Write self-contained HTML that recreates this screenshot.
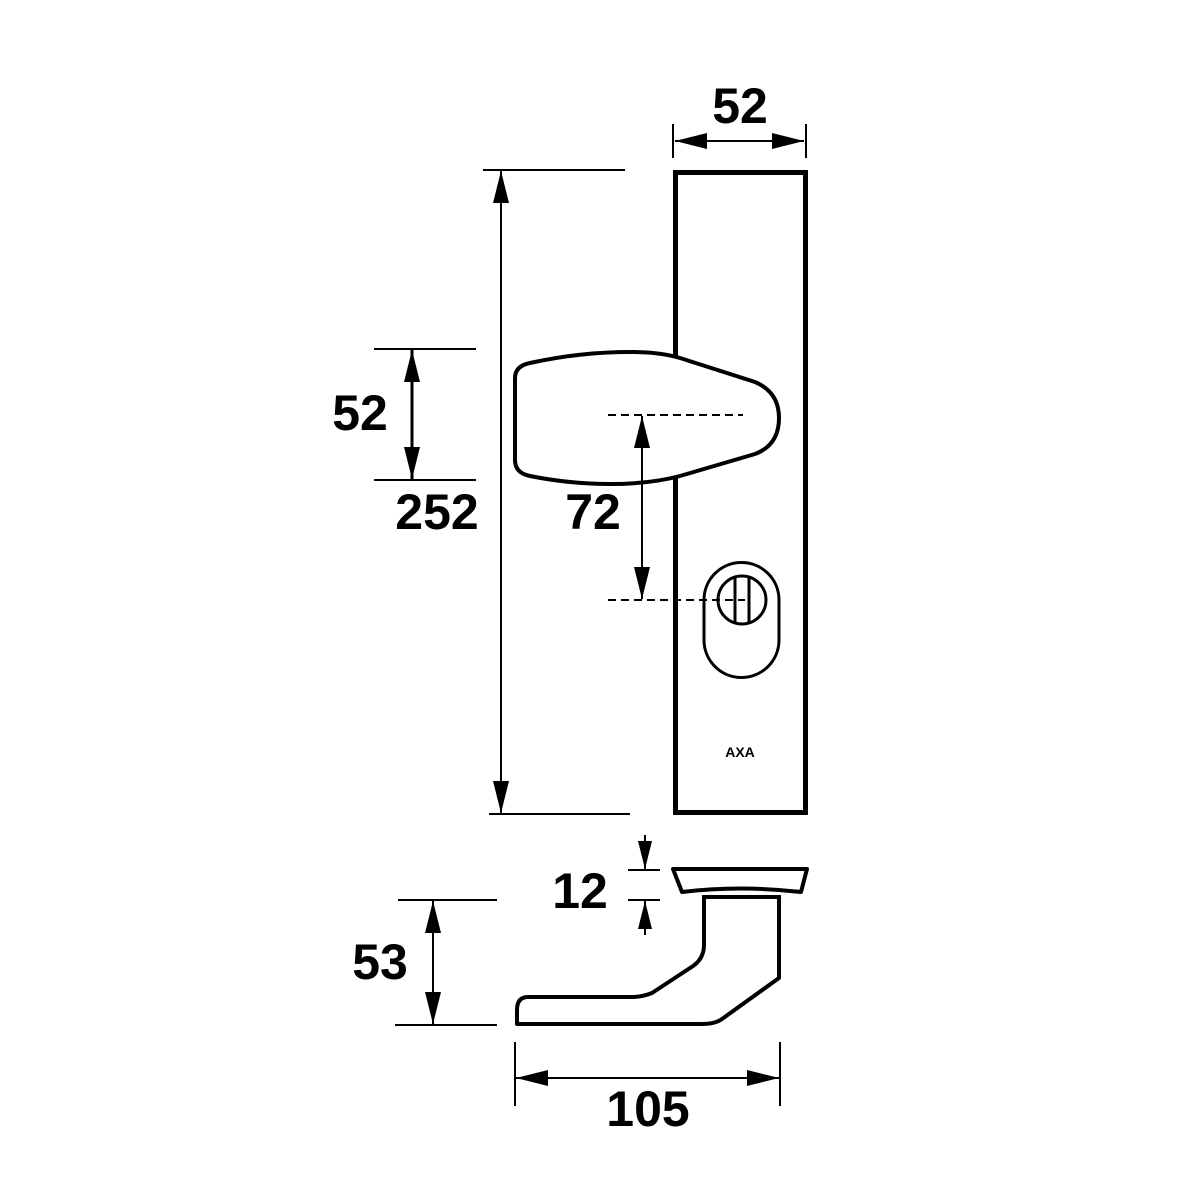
<!DOCTYPE html>
<html><head><meta charset="utf-8"><style>html,body{margin:0;padding:0;background:#fff}svg{display:block}</style></head><body>
<svg width="1181" height="1181" viewBox="0 0 1181 1181" xmlns="http://www.w3.org/2000/svg">
<defs>
<marker id="a" viewBox="0 0 32 16" refX="32" refY="8" markerWidth="28" markerHeight="14" markerUnits="userSpaceOnUse" orient="auto-start-reverse"><path d="M0,0 L32,8 L0,16 z" fill="#000"/></marker>
<marker id="b" viewBox="0 0 32 16" refX="32" refY="8" markerWidth="32" markerHeight="16" markerUnits="userSpaceOnUse" orient="auto-start-reverse"><path d="M0,0 L32,8 L0,16 z" fill="#000"/></marker>
</defs>
<g fill="none" stroke="#000">
<rect x="675.5" y="172.5" width="130" height="640" stroke-width="5" fill="#fff"/>
<line x1="673" y1="124" x2="673" y2="158" stroke-width="2"/>
<line x1="806" y1="124" x2="806" y2="158" stroke-width="2"/>
<line x1="675" y1="141" x2="804" y2="141" stroke-width="2" marker-start="url(#b)" marker-end="url(#b)"/>
<line x1="483" y1="170" x2="625" y2="170" stroke-width="2"/>
<line x1="489" y1="814" x2="630" y2="814" stroke-width="2"/>
<line x1="501" y1="171" x2="501" y2="813" stroke-width="2" marker-start="url(#b)" marker-end="url(#b)"/>
<line x1="374" y1="349" x2="476" y2="349" stroke-width="2"/>
<line x1="374" y1="480" x2="476" y2="480" stroke-width="2"/>
<line x1="412" y1="350" x2="412" y2="479" stroke-width="3" marker-start="url(#b)" marker-end="url(#b)"/>
<path d="M530,363 Q580,352 630,352 Q660,352 680,358 L755,382 Q779,392 779,418 Q779,445 755,454 L680,476 Q650,484 610,484 Q570,484 530,476 Q515,473 515,460 L515,378 Q515,366 530,363 Z" stroke-width="4" fill="#fff"/>
<line x1="608" y1="415" x2="743" y2="415" stroke-width="2" stroke-dasharray="8,5"/>
<line x1="608" y1="600" x2="745" y2="600" stroke-width="2" stroke-dasharray="8,5"/>
<line x1="642" y1="416" x2="642" y2="599" stroke-width="2" marker-start="url(#b)" marker-end="url(#b)"/>
<path d="M704,600 A37.5,37.5 0 0 1 779,600 L779,640 A37.5,37.5 0 0 1 704,640 Z" stroke-width="3"/>
<circle cx="742" cy="600" r="24" stroke-width="3"/>
<line x1="735" y1="577" x2="735" y2="623" stroke-width="3"/>
<line x1="749" y1="577" x2="749" y2="623" stroke-width="3"/>
<path d="M673,869 L807,869 L801,892 Q740,885 682,892 Z" stroke-width="4" stroke-linejoin="round"/>
<path d="M704,897 L704,945 Q704,960 690,968 L652,993 Q642,997 632,997 L528,997 Q517,997 517,1010 L517,1024 L702,1024 Q715,1024 722,1019 L779,978 L779,898" stroke-width="4" stroke-linejoin="round"/>
<line x1="702" y1="897" x2="781" y2="897" stroke-width="4"/>
<line x1="628" y1="870" x2="660" y2="870" stroke-width="2"/>
<line x1="628" y1="900" x2="660" y2="900" stroke-width="2"/>
<line x1="645" y1="835" x2="645" y2="869" stroke-width="2" marker-end="url(#a)"/>
<line x1="645" y1="935" x2="645" y2="901" stroke-width="2" marker-end="url(#a)"/>
<line x1="398" y1="900" x2="497" y2="900" stroke-width="2"/>
<line x1="395" y1="1025" x2="497" y2="1025" stroke-width="2"/>
<line x1="433" y1="901" x2="433" y2="1024" stroke-width="2" marker-start="url(#b)" marker-end="url(#b)"/>
<line x1="515" y1="1042" x2="515" y2="1106" stroke-width="2"/>
<line x1="780" y1="1042" x2="780" y2="1106" stroke-width="2"/>
<line x1="516" y1="1078" x2="779" y2="1078" stroke-width="2" marker-start="url(#b)" marker-end="url(#b)"/>
</g>
<g font-family="Liberation Sans, sans-serif" font-weight="bold" font-size="50" text-anchor="middle" fill="#000">
<text x="740" y="123">52</text>
<text x="360" y="430">52</text>
<text x="437" y="529">252</text>
<text x="593" y="529">72</text>
<text x="580" y="908">12</text>
<text x="380" y="979">53</text>
<text x="648" y="1126">105</text>
<text x="740" y="757" font-size="14">AXA</text>
</g>
</svg>
</body></html>
